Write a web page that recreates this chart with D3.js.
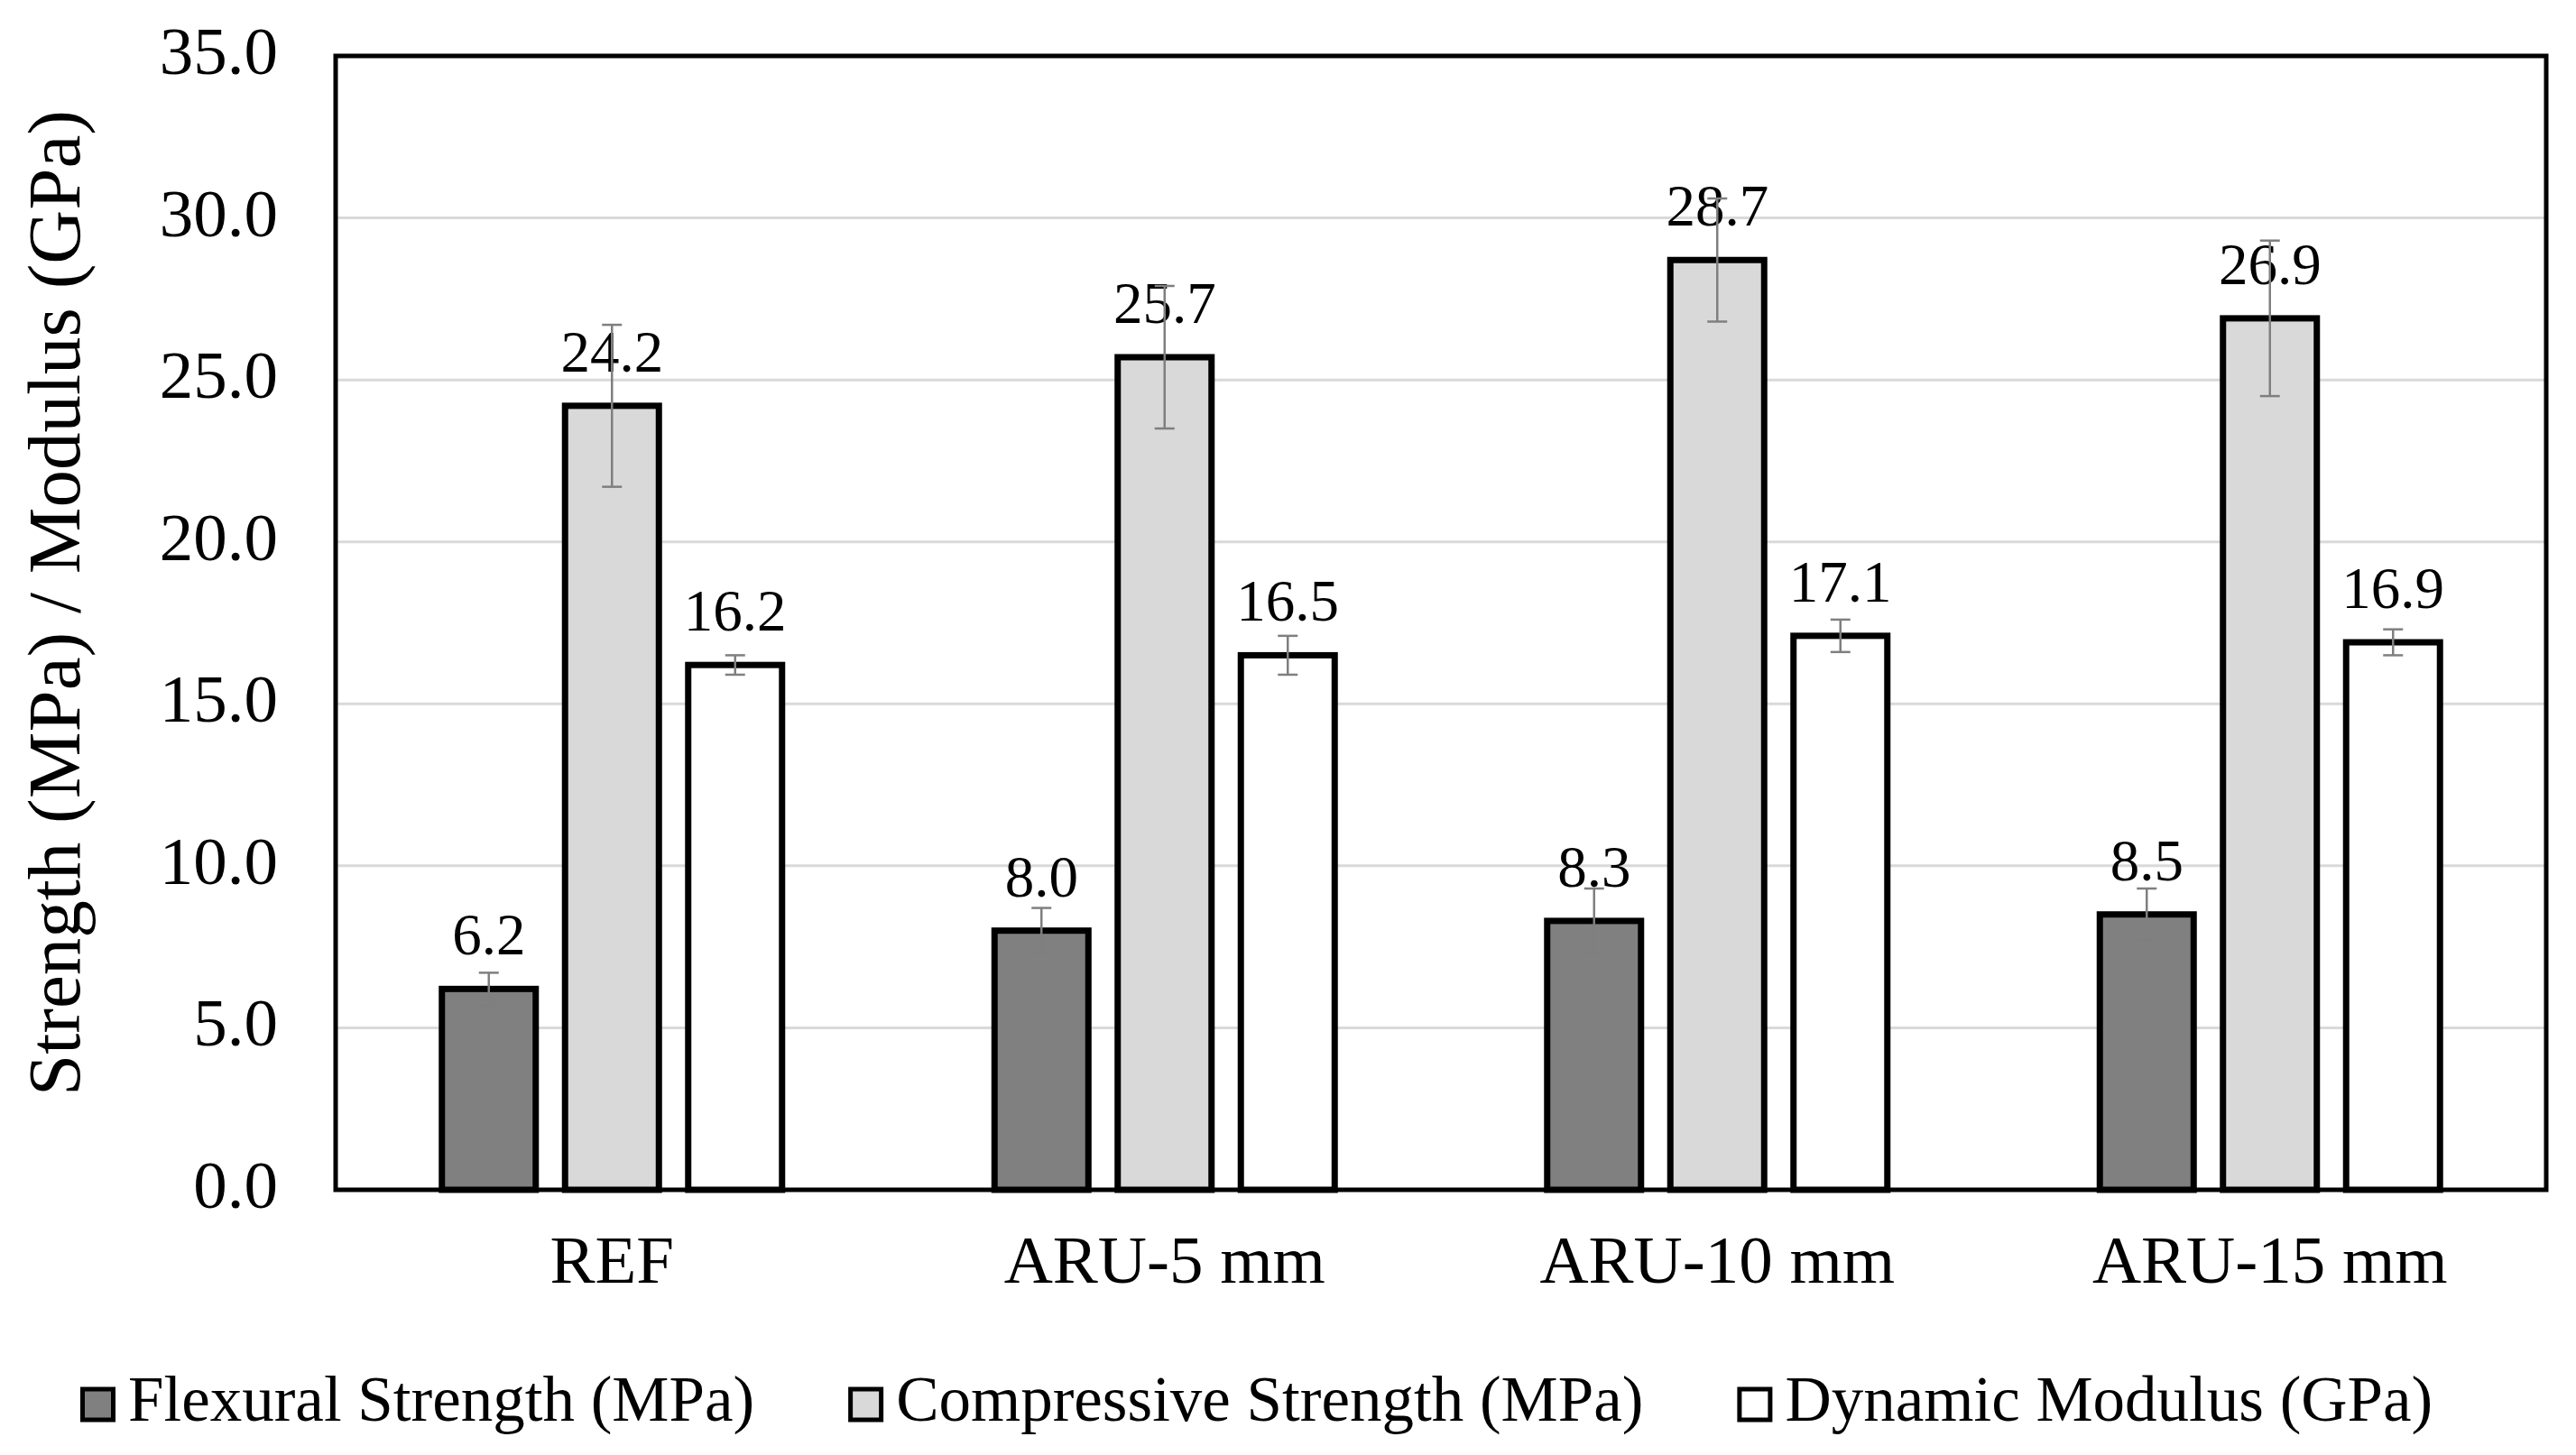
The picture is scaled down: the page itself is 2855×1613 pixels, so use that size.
<!DOCTYPE html>
<html>
<head>
<meta charset="utf-8">
<script src="https://cdn.jsdelivr.net/npm/d3@7"></script>
<style>
  body { margin: 0; background: #fff; }
  svg { display: block; }
</style>
</head>
<body>
<div id="chart"></div>
<script>
const categories = ['REF', 'ARU-5 mm', 'ARU-10 mm', 'ARU-15 mm'];
const seriesNames = ['Flexural Strength (MPa)', 'Compressive Strength (MPa)', 'Dynamic Modulus (GPa)'];
const flexural = [6.2, 8.0, 8.3, 8.5];
const compressive = [24.2, 25.7, 28.7, 26.9];
const dynamic = [16.2, 16.5, 17.1, 16.9];
const flexuralErr = [0.5, 0.7, 1.0, 0.8];
const compressiveErr = [2.5, 2.2, 1.9, 2.4];
const dynamicErr = [0.3, 0.6, 0.5, 0.4];
const yTicks = [0, 5, 10, 15, 20, 25, 30, 35];

const colors = ['#808080', '#d9d9d9', '#ffffff'];
const values = [flexural, compressive, dynamic];
const errors = [flexuralErr, compressiveErr, dynamicErr];

const W = 2855, H = 1613;
const margin = {left: 372, right: 33, top: 62, bottom: 294};
const fontFam = '"Liberation Serif", "Times New Roman", serif';

const data = [];
categories.forEach((c, i) => {
    seriesNames.forEach((s, j) => {
        data.push({cat: c, series: s, value: values[j][i], err: errors[j][i], color: colors[j]});
    });
});

const svg = d3.select('#chart')
    .append('svg')
    .attr('width', W)
    .attr('height', H)
    .style('font-family', fontFam);

svg.append('rect').attr('width', W).attr('height', H).attr('fill', '#fff');

const x0 = d3.scaleBand()
    .domain(categories)
    .range([margin.left, W - margin.right]);

const groupW = 377;
const x1 = d3.scaleBand()
    .domain(seriesNames)
    .range([(x0.bandwidth() - groupW) / 2, (x0.bandwidth() + groupW) / 2])
    .paddingInner(0.238);

const y = d3.scaleLinear()
    .domain([0, 35])
    .range([H - margin.bottom, margin.top]);

// gridlines
svg.append('g')
    .selectAll('line')
    .data(yTicks)
    .enter()
    .append('line')
    .attr('x1', margin.left)
    .attr('x2', W - margin.right)
    .attr('y1', d => y(d))
    .attr('y2', d => y(d))
    .attr('stroke', '#d9d9d9')
    .attr('stroke-width', 3);

// y tick labels
const yAxis = d3.axisLeft(y).tickValues(yTicks).tickFormat(d3.format('.1f')).tickSize(0).tickPadding(64);
const yG = svg.append('g')
    .attr('transform', `translate(${margin.left},0)`)
    .call(yAxis);
yG.select('.domain').remove();
yG.selectAll('text')
    .attr('font-size', '75px')
    .attr('font-family', fontFam)
    .attr('fill', '#000')
    .attr('dy', '0.26em');

// bars
svg.append('g')
    .selectAll('rect')
    .data(data)
    .enter()
    .append('rect')
    .attr('x', d => x0(d.cat) + x1(d.series))
    .attr('y', d => y(d.value))
    .attr('width', x1.bandwidth())
    .attr('height', d => y(0) - y(d.value))
    .attr('fill', d => d.color)
    .attr('stroke', '#000')
    .attr('stroke-width', 7);

// value labels
svg.append('g')
    .selectAll('text')
    .data(data)
    .enter()
    .append('text')
    .attr('x', d => x0(d.cat) + x1(d.series) + x1.bandwidth() / 2)
    .attr('y', d => y(d.value) - 38)
    .attr('text-anchor', 'middle')
    .attr('font-size', '65px')
    .attr('fill', '#000')
    .text(d => d3.format('.1f')(d.value));

// error bars
const errG = svg.append('g')
    .attr('stroke', '#7f7f7f')
    .attr('stroke-width', 2.5);
const eb = errG.selectAll('g')
    .data(data)
    .enter()
    .append('g')
    .attr('transform', d => `translate(${x0(d.cat) + x1(d.series) + x1.bandwidth() / 2},0)`);
eb.append('line')
    .attr('y1', d => y(d.value + d.err))
    .attr('y2', d => y(d.value - d.err));
eb.append('line')
    .attr('x1', -11).attr('x2', 11)
    .attr('y1', d => y(d.value + d.err))
    .attr('y2', d => y(d.value + d.err));
eb.append('line')
    .attr('x1', -11).attr('x2', 11)
    .attr('y1', d => y(d.value - d.err))
    .attr('y2', d => y(d.value - d.err));

// plot border
svg.append('rect')
    .attr('x', margin.left)
    .attr('y', margin.top)
    .attr('width', W - margin.left - margin.right)
    .attr('height', H - margin.top - margin.bottom)
    .attr('fill', 'none')
    .attr('stroke', '#000')
    .attr('stroke-width', 5);

// category labels
svg.append('g')
    .selectAll('text')
    .data(categories)
    .enter()
    .append('text')
    .attr('x', d => x0(d) + x0.bandwidth() / 2)
    .attr('y', 1422)
    .attr('text-anchor', 'middle')
    .attr('font-size', '75px')
    .attr('fill', '#000')
    .text(d => d);

// y title
svg.append('text')
    .attr('transform', `translate(88, ${(margin.top + H - margin.bottom) / 2 - 22}) rotate(-90)`)
    .attr('text-anchor', 'middle')
    .attr('font-size', '83px')
    .attr('fill', '#000')
    .text('Strength (MPa) / Modulus (GPa)');

// legend
const legend = svg.append('g').attr('transform', 'translate(0,1575)');
let lx = 89;
seriesNames.forEach((s, j) => {
    legend.append('rect')
        .attr('x', lx + 2.5)
        .attr('y', -35)
        .attr('width', 34)
        .attr('height', 34)
        .attr('fill', colors[j])
        .attr('stroke', '#000')
        .attr('stroke-width', 5);
    const t = legend.append('text')
        .attr('x', lx + 53)
        .attr('y', 0)
        .attr('font-size', '71px')
        .attr('fill', '#000')
        .text(s);
    lx = lx + 53 + t.node().getComputedTextLength() + 104;
});
</script>
</body>
</html>
